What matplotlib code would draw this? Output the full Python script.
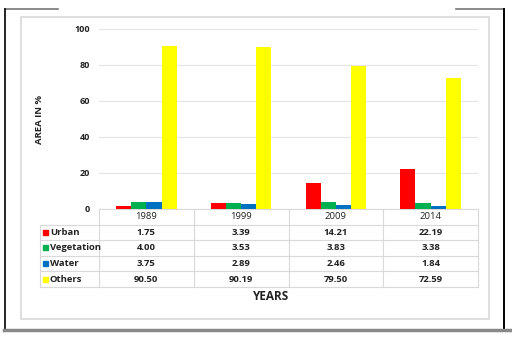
import matplotlib
matplotlib.use("Agg")
import matplotlib.pyplot as plt
from matplotlib.lines import Line2D
from matplotlib.patches import Rectangle
import numpy as np

years = ["1989", "1999", "2009", "2014"]
series_names = ["Urban", "Vegetation", "Water", "Others"]
urban = [1.75, 3.39, 14.21, 22.19]
vegetation = [4.00, 3.53, 3.83, 3.38]
water = [3.75, 2.89, 2.46, 1.84]
others = [90.50, 90.19, 79.50, 72.59]
colors = ["#ff0000", "#00b050", "#0070c0", "#ffff00"]
yticks = [0, 20, 40, 60, 80, 100]

series = [urban, vegetation, water, others]

W, H = 512, 337
fig = plt.figure(figsize=(W / 100, H / 100), dpi=100)
plt.rcParams['font.family'] = ['Open Sans', 'DejaVu Sans']

def fx(px):
    return px / W

def fy(py):
    return 1 - py / H

# background overlay axes for frame/table
bg = fig.add_axes([0, 0, 1, 1])
bg.set_xlim(0, W)
bg.set_ylim(H, 0)
bg.axis("off")

# outer frame
bg.add_line(Line2D([5, 58], [9, 9], color="#777777", lw=1.2))
bg.add_line(Line2D([456, 504], [9, 9], color="#777777", lw=1.2))
bg.add_line(Line2D([5, 5], [9, 329], color="black", lw=1.2))
bg.add_line(Line2D([503.5, 503.5], [9, 329], color="black", lw=1.4))
bg.add_line(Line2D([4, 512], [330, 330], color="#888888", lw=2.5))
# inner chart border
bg.add_patch(Rectangle((20.5, 16.5), 468, 302, fill=False, ec="#d9d9d9", lw=1.2))

# main axes
left_px, right_px, top_px, bot_px = 99, 478, 29, 209
ax = fig.add_axes([fx(left_px), fy(bot_px), fx(right_px - left_px), (bot_px - top_px) / H])
x = np.arange(len(years))
w = 0.16
offsets = [-1.5 * w, -0.5 * w, 0.5 * w, 1.5 * w]
for vals, c, off, name in zip(series, colors, offsets, series_names):
    ax.bar(x + off, vals, width=w, color=c, label=name, zorder=3)
ax.set_xlim(-0.5, len(years) - 0.5)
ax.set_ylim(0, 100)
ax.set_yticks(yticks)
ax.set_yticklabels([str(t) for t in yticks], fontsize=6.5, fontweight="bold",
                   color="#222222")
ax.set_xticks([])
ax.tick_params(axis="y", length=0, pad=6.5)
for s in ax.spines.values():
    s.set_visible(False)
ax.yaxis.grid(True, color="#e4e4e4", lw=0.8)
ax.set_axisbelow(True)
ax.patch.set_alpha(0)
ax.set_ylabel("AREA IN %", fontsize=6.8, fontweight="bold", labelpad=22,
              color="#222222")

# table
col_x = [99, 193.75, 288.5, 383.25, 478]
row_y = [209, 224.5, 240, 255.5, 271, 287]
lab_left = 40
gc = "#d9d9d9"
bg.add_line(Line2D([col_x[0], col_x[-1]], [row_y[0], row_y[0]], color=gc, lw=0.8))
for yy in row_y[1:]:
    bg.add_line(Line2D([lab_left, col_x[-1]], [yy, yy], color=gc, lw=0.8))
for xx in col_x:
    bg.add_line(Line2D([xx, xx], [row_y[0], row_y[-1]], color=gc, lw=0.8))
bg.add_line(Line2D([lab_left, lab_left], [row_y[1], row_y[-1]], color=gc, lw=0.8))

for j, yr in enumerate(years):
    cx = (col_x[j] + col_x[j + 1]) / 2
    bg.text(cx, (row_y[0] + row_y[1]) / 2, yr, ha="center", va="center",
            fontsize=6.8, color="#222222")
for i, (name, vals, c) in enumerate(zip(series_names, series, colors)):
    cy = (row_y[i + 1] + row_y[i + 2]) / 2
    bg.add_patch(Rectangle((43, cy - 2.5), 5, 5, color=c))
    bg.text(50, cy, name, ha="left", va="center", fontsize=6.8,
            fontweight="bold", color="#222222")
    for j, v in enumerate(vals):
        cx = (col_x[j] + col_x[j + 1]) / 2
        bg.text(cx, cy, f"{v:.2f}", ha="center", va="center", fontsize=6.8,
                fontweight="bold", color="#222222")

bg.text(270, 296, "YEARS", ha="center", va="center", fontsize=8.5,
        fontweight="bold", color="#222222")

fig.savefig("out.png", dpi=100)
